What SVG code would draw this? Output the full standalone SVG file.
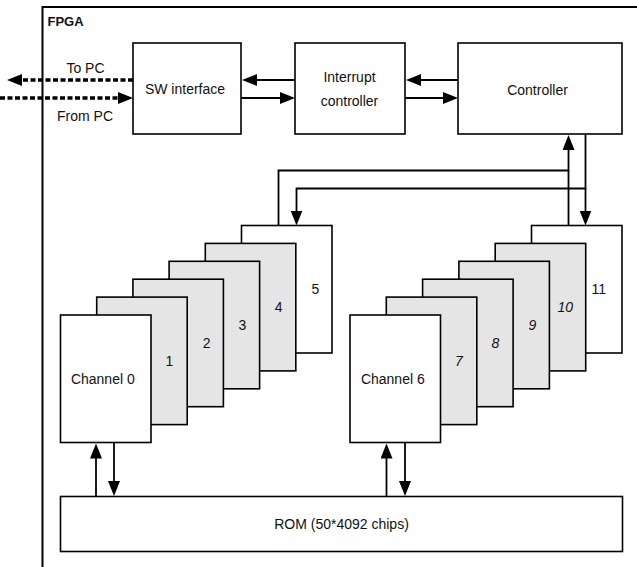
<svg xmlns="http://www.w3.org/2000/svg" width="637" height="567" viewBox="0 0 637 567">
<defs>
<marker id="ah" viewBox="0 0 15 12" markerWidth="15" markerHeight="12" refX="1" refY="6" orient="auto" markerUnits="userSpaceOnUse">
<path d="M0,0 L15,6 L0,12 z" fill="#000"/>
</marker>
<marker id="ahd" viewBox="0 0 15 12" markerWidth="15" markerHeight="12" refX="1" refY="6" orient="auto" markerUnits="userSpaceOnUse">
<path d="M0,0 L15,6 L0,12 z" fill="#000"/>
</marker>
</defs>
<style>
text{font-family:"Liberation Sans",Arial,Helvetica,sans-serif;font-size:14px;fill:#111;text-anchor:middle}
.box{fill:#fff;stroke:#000;stroke-width:1.6}
.gray{fill:#e5e5e5;stroke:#000;stroke-width:1.6}
.it{font-style:italic}
.conn{fill:none;stroke:#000;stroke-width:1.8}
.dash{fill:none;stroke:#000;stroke-width:3.5;stroke-dasharray:5 2.5}
</style>
<rect width="637" height="567" fill="#fff"/>
<g id="fpga">
<path d="M42.5,567 V7 H637" fill="none" stroke="#000" stroke-width="2"/>
<text x="47.5" y="25.5" style="font-weight:bold;font-size:13px;text-anchor:start">FPGA</text>
</g>
<g id="sw-interface">
<rect class="box" x="133" y="43" width="108" height="91"/>
<text x="185" y="94">SW interface</text>
</g>
<g id="interrupt-controller">
<rect class="box" x="295" y="43" width="110" height="91"/>
<text x="349.5" y="81.5">Interrupt</text>
<text x="349.5" y="105.5">controller</text>
</g>
<g id="controller">
<rect class="box" x="458" y="43" width="164" height="91"/>
<text x="537.5" y="94.5">Controller</text>
</g>
<g id="channel-5">
<rect class="box" x="241.5" y="225.5" width="90.5" height="127.5"/>
<text x="315.5" y="294">5</text>
</g>
<g id="channel-4">
<rect class="gray" x="205.3" y="243.4" width="90.5" height="127.5"/>
<text x="278.7" y="312.3">4</text>
</g>
<g id="channel-3">
<rect class="gray" x="169.1" y="261.3" width="90.5" height="127.5"/>
<text x="242.3" y="330">3</text>
</g>
<g id="channel-2">
<rect class="gray" x="132.9" y="279.2" width="90.5" height="127.5"/>
<text x="206.7" y="348.3">2</text>
</g>
<g id="channel-1">
<rect class="gray" x="96.7" y="297.1" width="90.5" height="127.5"/>
<text x="169.5" y="365.7">1</text>
</g>
<g id="channel-0">
<rect class="box" x="60.5" y="315" width="90.5" height="127.5"/>
<text x="102.8" y="384.3">Channel 0</text>
</g>
<g id="channel-11">
<rect class="box" x="531.5" y="225.5" width="90.5" height="127.5"/>
<text x="598.7" y="294">11</text>
</g>
<g id="channel-10">
<rect class="gray" x="495.2" y="243.4" width="90.5" height="127.5"/>
<text class="it" x="565.3" y="312.3">10</text>
</g>
<g id="channel-9">
<rect class="gray" x="458.9" y="261.3" width="90.5" height="127.5"/>
<text class="it" x="532.5" y="330">9</text>
</g>
<g id="channel-8">
<rect class="gray" x="422.6" y="279.2" width="90.5" height="127.5"/>
<text class="it" x="495.5" y="348.3">8</text>
</g>
<g id="channel-7">
<rect class="gray" x="386.3" y="297.1" width="90.5" height="127.5"/>
<text class="it" x="458.8" y="365.7">7</text>
</g>
<g id="channel-6">
<rect class="box" x="350" y="315" width="90.5" height="127.5"/>
<text x="392.8" y="384.3">Channel 6</text>
</g>
<g id="rom">
<rect class="box" x="60.5" y="496.5" width="562" height="55"/>
<text x="341.5" y="529">ROM (50*4092 chips)</text>
</g>
<g id="connectors">
<text x="85.5" y="72.5">To PC</text>
<text x="85" y="121">From PC</text>
<path class="dash" d="M133,80 H21" marker-end="url(#ahd)"/>
<path class="dash" d="M0,98 H119" marker-end="url(#ahd)"/>
<path class="conn" d="M295,80 H256" marker-end="url(#ah)"/>
<path class="conn" d="M241,98 H281" marker-end="url(#ah)"/>
<path class="conn" d="M458,80 H420" marker-end="url(#ah)"/>
<path class="conn" d="M405,98 H444" marker-end="url(#ah)"/>
<path class="conn" d="M278.5,225.5 V170.5 H568.5 V149" marker-end="url(#ah)"/>
<path class="conn" d="M568.5,225.5 V170.5"/>
<path class="conn" d="M585.5,134 V188.5 H296.5 V211.5" marker-end="url(#ah)"/>
<path class="conn" d="M585.5,188.5 V211.5" marker-end="url(#ah)"/>
<path class="conn" d="M96,496.5 V457.5" marker-end="url(#ah)"/>
<path class="conn" d="M114,442.5 V482" marker-end="url(#ah)"/>
<path class="conn" d="M386.5,496.5 V457.5" marker-end="url(#ah)"/>
<path class="conn" d="M405,442.5 V482" marker-end="url(#ah)"/>
</g>
</svg>
